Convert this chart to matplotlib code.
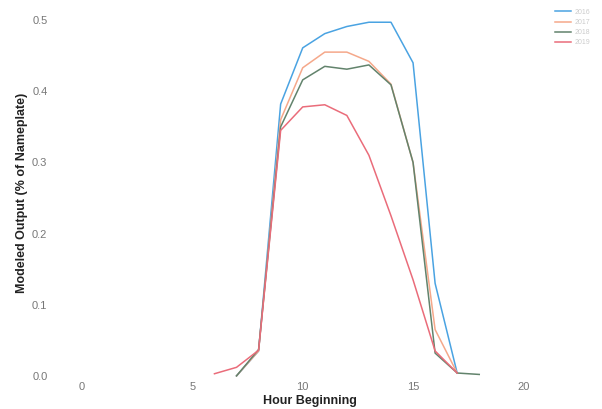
import matplotlib
matplotlib.use("Agg")
import matplotlib.pyplot as plt

plt.rcParams['font.family'] = ['Liberation Sans', 'DejaVu Sans']

hours_a = [7, 8, 9, 10, 11, 12, 13, 14, 15, 16, 17]
hours_red = [6, 7, 8, 9, 10, 11, 12, 13, 14, 15, 16, 17]
hours_green = [7, 8, 9, 10, 11, 12, 13, 14, 15, 16, 17, 18]

blue = [0.0, 0.035, 0.382, 0.461, 0.481, 0.491, 0.497, 0.497, 0.44, 0.13, 0.004]
orange = [0.0, 0.035, 0.36, 0.433, 0.455, 0.455, 0.442, 0.41, 0.30, 0.065, 0.004]
green = [0.0, 0.037, 0.35, 0.416, 0.435, 0.431, 0.437, 0.409, 0.30, 0.032, 0.004, 0.002]
red = [0.003, 0.012, 0.036, 0.345, 0.378, 0.381, 0.366, 0.31, 0.225, 0.135, 0.035, 0.004]

labels = ["2016", "2017", "2018", "2019"]
colors = ['#4aa3e2', '#f5a88a', '#62836c', '#ea6c7a']

fig = plt.figure(figsize=(6.02, 4.09), dpi=100)
W, H = 602, 409
L, R, T, B = 60, 560, 8, 378
ax = fig.add_axes([L / W, 1 - B / H, (R - L) / W, (B - T) / H])

ax.plot(hours_a, blue, color=colors[0], lw=1.1, label=labels[0])
ax.plot(hours_a, orange, color=colors[1], lw=1.1, label=labels[1])
ax.plot(hours_green, green, color=colors[2], lw=1.1, label=labels[2])
ax.plot(hours_red, red, color=colors[3], lw=1.1, label=labels[3])

ax.set_xlim(-1.0, 21.66)
ax.set_ylim(-0.003, 0.517)
ax.set_xticks([0, 5, 10, 15, 20])
ax.set_yticks([0.0, 0.1, 0.2, 0.3, 0.4, 0.5])
ax.set_yticklabels(["0.0", "0.1", "0.2", "0.3", "0.4", "0.5"])
ax.tick_params(axis='both', length=0, labelsize=8, labelcolor='#777777')
ax.tick_params(axis='y', pad=9)
ax.tick_params(axis='x', pad=3)
for s in ax.spines.values():
    s.set_visible(False)

ax.set_xlabel("Hour Beginning", fontsize=9, fontweight='bold', color='#222222', labelpad=2)
ax.set_ylabel("Modeled Output (% of Nameplate)", fontsize=9, fontweight='bold', color='#222222', labelpad=3)

leg = ax.legend(loc='upper left', bbox_to_anchor=(0.985, 1.005), frameon=False,
                fontsize=5, handlelength=2.2, labelspacing=0.45, borderaxespad=0,
                handletextpad=0.6)
for t in leg.get_texts():
    t.set_color('#cccccc')

fig.savefig("out.png", dpi=100)
